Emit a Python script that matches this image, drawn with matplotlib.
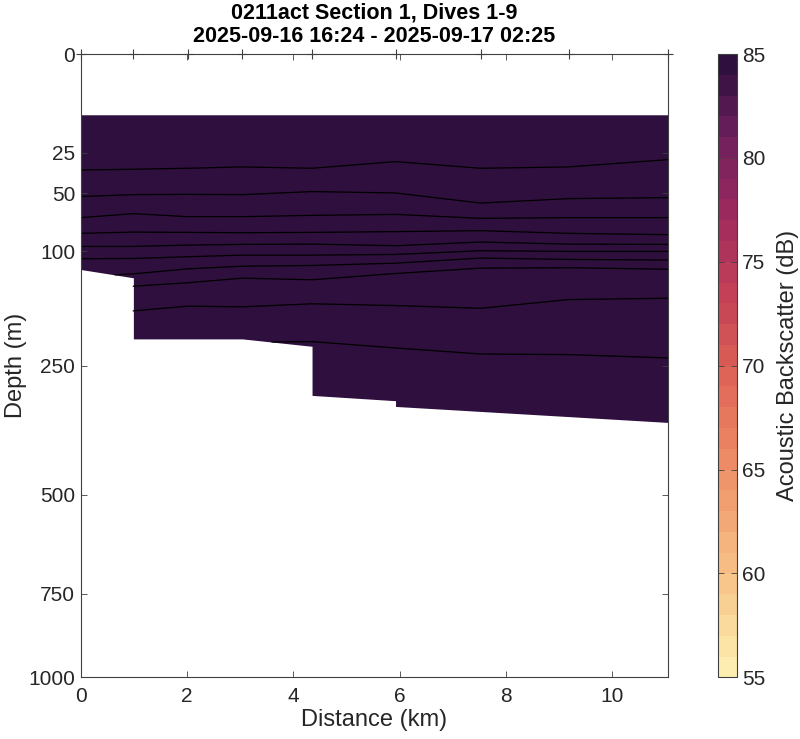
import numpy as np
import matplotlib
matplotlib.use("Agg")
import matplotlib.pyplot as plt
from matplotlib.colors import LinearSegmentedColormap, ListedColormap, BoundaryNorm
from matplotlib.cm import ScalarMappable

plt.rcParams['font.family'] = ['Liberation Sans', 'DejaVu Sans']

# dive positions along the section (km)
dive_km = [0, 0.99, 2.01, 3.04, 4.35, 5.92, 7.52, 9.18, 11.05]

# data extent: surface bin and bottom of the gridded section (m)
top_m = 9.5
bottom_km = [0, 0.99, 0.99, 3.04, 4.35, 4.35, 5.92, 5.92, 11.05]
bottom_m = [119.5, 128.9, 208.9, 208.9, 219.9, 300.0, 309.4, 319.7, 349.4]

# contour lines (depth in m at each dive position)
c1 = [34.6, 34.2, 33.6, 32.8, 33.6, 29.8, 33.6, 32.8, 28.7]
c2 = [52.3, 50.9, 50.7, 50.9, 48.7, 49.7, 57.2, 53.8, 53.1]
c3 = [68.9, 65.6, 68.1, 68.1, 67.0, 66.2, 69.5, 68.9, 68.9]
c4 = [82.8, 81.6, 81.9, 82.2, 81.9, 81.2, 80.3, 82.8, 84.0]
c5 = [95.3, 95.3, 94.0, 93.3, 93.0, 94.6, 91.0, 93.0, 93.3]
c6 = [107.9, 107.6, 105.8, 104.1, 104.1, 103.4, 99.6, 100.3, 100.3]
c7_km = [0.65] + dive_km[1:]
c7 = [125.5, 124.4, 118.8, 115.9, 115.1, 112.6, 107.2, 108.6, 109.3]
c8_km = dive_km[1:]
c8 = [138.8, 134.7, 129.3, 131.2, 124.0, 118.0, 117.6, 119.2]
c9_km = dive_km[1:]
c9 = [169.8, 163.7, 164.5, 160.6, 162.9, 166.4, 155.2, 153.5]
c10_km = [3.6] + dive_km[4:]
c10 = [213.4, 212.9, 222.4, 231.6, 232.6, 237.8]

# backscatter field is saturated at the top of the colour range
field_db = 85
clim = (55, 85)
depth_ticks = [0, 25, 50, 100, 250, 500, 750, 1000]

# approximation of cmocean "matter"
matter = LinearSegmentedColormap.from_list("matter", [
    "#FDEDB0", "#F8C98D", "#F3A675", "#EB8362", "#DB5F55",
    "#C23F57", "#9E2A5E", "#70205E", "#2F0F3D"])
levels = np.arange(clim[0], clim[1] + 1, 1)
cmap = ListedColormap(matter(np.linspace(0, 1, len(levels) - 1)))
norm = BoundaryNorm(levels, cmap.N)

txt = '#262626'
fig = plt.figure(figsize=(8, 7.39), dpi=100)
ax = fig.add_axes([0.1009, 0.0835, 0.7345, 0.8434])
cax = fig.add_axes([0.898, 0.0835, 0.0228, 0.8434])

ax.set_yscale('function', functions=(lambda y: np.sqrt(np.clip(y, 0, None)), lambda y: np.square(y)))

ax.fill_between(bottom_km, top_m, bottom_m, color=cmap(norm(field_db - 0.5)), lw=0)

lines = [(dive_km, c1), (dive_km, c2), (dive_km, c3), (dive_km, c4), (dive_km, c5),
         (dive_km, c6), (c7_km, c7), (c8_km, c8), (c9_km, c9), (c10_km, c10)]
for xs, ys in lines:
    ax.plot(xs, ys, color='black', lw=0.9)

ax.plot(dive_km, np.zeros(len(dive_km)), ls='none', marker='+', ms=7, mew=0.8,
        color='#404040', clip_on=False, zorder=5)

ax.set_xlim(0, dive_km[-1])
ax.set_ylim(1000, 0)
ax.set_yticks(depth_ticks)
ax.set_yticklabels([str(d) for d in depth_ticks])
ax.minorticks_off()
ax.tick_params(direction='in', top=True, right=True, length=4, width=0.6,
               labelsize=15, colors=txt, color='#404040', pad=4)
ax.tick_params(axis='x', pad=7)
for s in ax.spines.values():
    s.set_color('#404040')
    s.set_linewidth(0.8)

ax.set_xlabel("Distance (km)", fontsize=17, color=txt, labelpad=2)
ax.set_ylabel("Depth (m)", fontsize=17, color=txt, labelpad=1)
ax.set_title("0211act Section 1, Dives 1-9\n2025-09-16 16:24 - 2025-09-17 02:25",
             fontsize=15.5, fontweight='bold', pad=9, linespacing=1.1)

sm = ScalarMappable(norm=norm, cmap=cmap)
cb = fig.colorbar(sm, cax=cax, ticks=range(55, 86, 5))
cb.outline.set_edgecolor('#404040')
cb.outline.set_linewidth(0.8)
cax.minorticks_off()
cax.tick_params(direction='in', left=True, right=True, length=4, width=0.6,
                labelsize=15, colors=txt, color='#404040', pad=4)
cb.set_label("Acoustic Backscatter (dB)", fontsize=17, color=txt, labelpad=8)

fig.savefig("out.png", dpi=100)
